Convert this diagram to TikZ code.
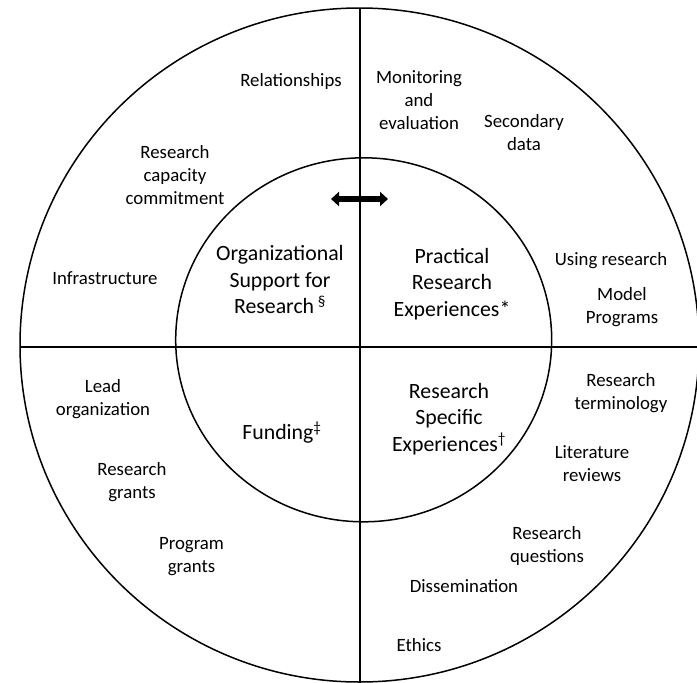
\documentclass[tikz,border=0pt]{standalone}
\usepackage{fontspec}
\setmainfont{Carlito}
\usetikzlibrary{arrows.meta}
\tikzset{
  item/.style={align=center, inner sep=0pt, font=\fontsize{18.8}{23}\selectfont},
  core/.style={align=center, inner sep=0pt, font=\fontsize{21.8}{26.5}\selectfont},
  ring/.style={line width=1.5pt},
  divider/.style={line width=2.2pt},
}
\begin{document}
\begin{tikzpicture}[x=1pt,y=-1pt]
\useasboundingbox (0,0) rectangle (697,683);
\clip (0,0) rectangle (697,683);
\draw[ring] (359.5,345) ellipse [x radius=339.5pt, y radius=337pt];
\draw[ring] (363.7,339.8) ellipse [x radius=188pt, y radius=182pt];
\coordinate (top) at (360,8);
\coordinate (bottom) at (360,683);
\coordinate (left) at (20,347);
\coordinate (right) at (697,347);
\draw[divider] (top) -- (bottom);
\draw[divider, line width=2.6pt] (left) -- (right);
\coordinate (arrL) at (331,199);
\coordinate (arrR) at (388,199);
\draw[line width=5.5pt, arrows={Triangle[length=8pt,width=14pt]-Triangle[length=8pt,width=14pt]}] (arrL) -- (arrR);
\node[core] (org)  at (280,280)   {Organizational\\Support for\\Research\,\textsuperscript{§}};
\node[core] (prac) at (452,284)   {Practical\\Research\\Experiences*};
\node[core] (fund) at (282,432.5) {Funding\textsuperscript{‡}};
\node[core] (spec) at (449,419)   {Research\\Specific\\Experiences\textsuperscript{†}};
\node[item] (rel)   at (291,81)    {Relationships};
\node[item] (mon)   at (419,100)   {Monitoring\\and\\evaluation};
\node[item] (sec)   at (524,133)   {Secondary\\data};
\node[item] (cap)   at (175,175)   {Research\\capacity\\commitment};
\node[item] (inf)   at (105,278)   {Infrastructure};
\node[item] (using) at (611,260.5) {Using research};
\node[item] (model) at (622,307)   {Model\\Programs};
\node[item] (lead)  at (103,399)   {Lead\\organization};
\node[item] (term)  at (621,393)   {Research\\terminology};
\node[item] (lit)   at (592,464)   {Literature\\reviews};
\node[item] (rgr)   at (132,482.5) {Research\\grants};
\node[item] (rq)    at (547,546)   {Research\\questions};
\node[item] (pg)    at (191.5,556.5) {Program\\grants};
\node[item] (diss)  at (464,586)   {Dissemination};
\node[item] (eth)   at (419,645)   {Ethics};
\end{tikzpicture}
\end{document}
